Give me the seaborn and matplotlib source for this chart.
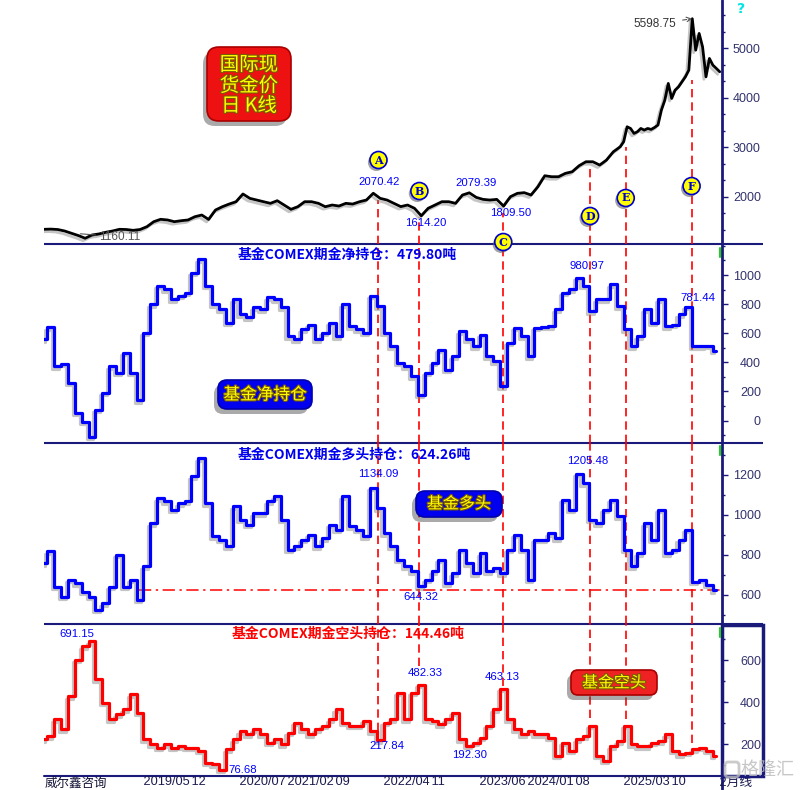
import numpy as np
import matplotlib
matplotlib.use("Agg")
import matplotlib.pyplot as plt
import seaborn as sns
from matplotlib import patheffects as pe
from matplotlib.patches import FancyBboxPatch, Rectangle
from matplotlib.ticker import MultipleLocator

# ---------------- data (month index: 0 = 2018/03) ----------------
month = list(range(99))

gold_month = list(range(84)) + [84 + 0.5 * i for i in range(30)]
gold = [1341, 1345, 1337, 1307, 1261, 1215, 1160, 1226, 1247, 1281,
        1307, 1341, 1337, 1320, 1337, 1394, 1495, 1543, 1530, 1495,
        1515, 1530, 1596, 1630, 1540, 1731, 1798, 1852, 1899, 2055,
        1967, 1933, 1899, 1866, 1919, 1832, 1745, 1798, 1899, 1899,
        1866, 1798, 1832, 1812, 1866, 1852, 1899, 1933, 2070, 1967,
        1933, 1866, 1800, 1832, 1766, 1614, 1766, 1832, 1899, 1899,
        1866, 2034, 2079, 1987, 1946, 1933, 1946, 1810, 2001, 2068,
        2082, 2034, 2202, 2424, 2404, 2404, 2472, 2505, 2626, 2707,
        2707, 2640, 2741, 2909,
        3010, 3111, 3414, 3380, 3280, 3313, 3380, 3347, 3380, 3360,
        3400, 3448, 3751, 3953, 4290, 3987, 4155, 4222, 4323, 4424,
        4559, 5598.75, 4963, 5301, 5030, 4424, 4795, 4660, 4594, 4526]

net = [560, 640, 373, 390, 260, 53, -7, -110, 74, 191,
       373, 327, 467, 327, 140, 605, 798, 925, 902, 833,
       856, 879, 1017, 1109, 925, 798, 764, 672, 833, 729,
       709, 778, 764, 847, 833, 778, 580, 557, 626, 660,
       557, 603, 672, 580, 798, 649, 626, 603, 856, 787,
       603, 511, 397, 373, 304, 177, 327, 397, 488, 350,
       442, 614, 557, 511, 591, 442, 407, 235, 534, 637,
       580, 442, 637, 644, 649, 764, 879, 902, 981, 925,
       752, 833, 833, 936, 787, 626, 511, 580, 764, 672,
       833, 649, 660, 729, 781, 511, 511, 515, 480]

long_pos = [758, 817, 642, 592, 675, 658, 617, 592, 525, 558,
            642, 800, 642, 675, 575, 742, 958, 1083, 1067, 1025,
            1058, 1067, 1192, 1283, 1058, 892, 875, 842, 1042, 975,
            950, 1008, 1008, 1067, 1092, 975, 825, 842, 875, 900,
            842, 883, 950, 925, 1092, 942, 925, 892, 1134, 1033,
            908, 842, 775, 742, 717, 644, 675, 717, 775, 658,
            708, 825, 758, 708, 808, 717, 733, 708, 825, 900,
            825, 675, 875, 875, 908, 883, 1075, 1025, 1205, 1158,
            975, 958, 1025, 1075, 992, 825, 742, 808, 958, 875,
            1025, 808, 825, 875, 925, 667, 675, 650, 624]

short_pos = [222, 238, 318, 270, 429, 603, 667, 691, 508, 397,
             318, 341, 365, 437, 349, 222, 199, 183, 199, 183,
             190, 183, 183, 167, 111, 103, 77, 175, 222, 262,
             246, 270, 246, 206, 222, 199, 254, 302, 270, 246,
             270, 286, 318, 365, 302, 286, 286, 310, 262, 218,
             302, 318, 445, 318, 445, 482, 318, 310, 294, 318,
             349, 222, 192, 206, 230, 286, 365, 463, 318, 270,
             246, 262, 246, 246, 230, 143, 206, 167, 222, 238,
             286, 143, 119, 190, 214, 286, 199, 190, 190, 206,
             214, 246, 167, 151, 159, 175, 183, 167, 144]

tick_month = [14, 21, 28, 35, 42, 49, 56, 63, 70, 77, 84, 91, 98]
tick_text = ["2019/05", "12", "2020/07", "2021/02", "09", "2022/04", "11",
             "2023/06", "2024/01", "08", "2025/03", "10", "2月线"]

event_letter = ["A", "B", "C", "D", "E", "F"]
event_month = [48.76, 54.72, 66.95, 79.6, 84.8, 94.4]
event_gold_top = [1933, 1596, 1664, 2641, 3011, 4360]
event_short_end = [262, 571, 476, 326, 318, 207]
event_badge_y = [2742, 2115, 1084, 1610, 1974, 2216]

net_now, long_now, short_now = 479.80, 624.26, 144.46

# ---------------- layout ----------------
sns.set_theme(style="white")
plt.rcParams["font.family"] = ["Noto Sans CJK SC", "DejaVu Sans"]

W, H = 803, 790
L, R = 44, 722
NAVY = "#1a1a7a"
TICKC = "#33336e"
BLUE = "#0000ff"
RED = "#ff0000"

fig = plt.figure(figsize=(W / 100, H / 100), dpi=100)
fig.patch.set_facecolor("white")


def rect(top, bottom):
    return [L / W, 1 - bottom / H, (R - L) / W, (bottom - top) / H]


back = fig.add_axes([0, 0, 1, 1], zorder=0)
back.set_xlim(0, W); back.set_ylim(H, 0); back.axis("off")

ax1 = fig.add_axes(rect(0, 244), zorder=3)
ax2 = fig.add_axes(rect(244, 443), zorder=2)
ax3 = fig.add_axes(rect(443, 624), zorder=2)
ax4 = fig.add_axes(rect(624, 775), zorder=2)
front = fig.add_axes([0, 0, 1, 1], zorder=10)
front.set_xlim(0, W); front.set_ylim(H, 0); front.axis("off")
front.patch.set_alpha(0)

axes = [ax1, ax2, ax3, ax4]
ylims = [(1044, 5977), (-154, 1213), (455, 1358), (52, 773)]
minors = [1000 / 3, 100, 100, 100]
yticks = [[2000, 3000, 4000, 5000], [0, 200, 400, 600, 800, 1000],
          [600, 800, 1000, 1200], [200, 400, 600]]
XMAX = (R - L) / 6.86

shadow = [pe.SimpleLineShadow(offset=(-1.5, -1.8), shadow_color="#808080", alpha=0.45), pe.Normal()]

sns.lineplot(x=gold_month, y=gold, ax=ax1, color="black", lw=2.0, path_effects=shadow)
sns.lineplot(x=month, y=net, ax=ax2, color=BLUE, lw=2.3, drawstyle="steps-mid", path_effects=shadow)
sns.lineplot(x=month, y=long_pos, ax=ax3, color=BLUE, lw=2.3, drawstyle="steps-mid", path_effects=shadow)
sns.lineplot(x=month, y=short_pos, ax=ax4, color=RED, lw=2.3, drawstyle="steps-mid", path_effects=shadow)

for ax, yl, yt, mn in zip(axes, ylims, yticks, minors):
    ax.set_facecolor("none")
    ax.set_xlim(0, XMAX)
    ax.set_ylim(*yl)
    ax.set(xlabel="", ylabel="")
    for s in ax.spines.values():
        s.set_visible(False)
    ax.yaxis.tick_right()
    ax.set_yticks(yt)
    ax.yaxis.set_minor_locator(MultipleLocator(mn))
    ax.tick_params(axis="y", which="major", direction="out", length=4.5, width=1,
                   color=NAVY, pad=23.5, labelsize=9, labelcolor=TICKC)
    ax.tick_params(axis="y", which="minor", direction="out", length=2, width=1, color=NAVY)
    for lb in ax.get_yticklabels():
        lb.set_ha("right")
        lb.set_fontfamily("Liberation Sans")
    ax.grid(False)
    if ax is not ax4:
        ax.tick_params(axis="x", which="both", bottom=False, labelbottom=False)

ax4.set_xticks(tick_month, labels=[" " + t for t in tick_text])
ax4.xaxis.set_minor_locator(MultipleLocator(1))
ax4.tick_params(axis="x", which="major", direction="out", length=11, width=1.2, color=NAVY,
                pad=-10.0, labelsize=9.2, labelcolor="#1a1a50")
ax4.tick_params(axis="x", which="minor", direction="out", length=2.5, width=0.9, color=NAVY)
for lb in ax4.get_xticklabels():
    lb.set_ha("left")
    lb.set_fontfamily(["Liberation Sans", "Noto Sans CJK SC"])

# event dashed lines
dash = (0, (5, 3))
ax1.vlines(event_month, ylims[0][0], event_gold_top, colors=RED, linestyles=[dash], lw=1.2, zorder=1)
for ax in (ax2, ax3):
    for m in event_month:
        ax.axvline(m, color=RED, ls=dash, lw=1.2, zorder=1)
ax4.vlines(event_month, event_short_end, ylims[3][1], colors=RED, linestyles=[dash], lw=1.2, zorder=1)

# horizontal dash-dot at current long value
ax3.hlines(long_now, 13.8, 98.5, colors=RED, linestyles=[(0, (8, 3, 1.5, 3))], lw=1.1, zorder=1)

# event badges
ax1.scatter(event_month, event_badge_y, s=150, facecolor="#ffff00", edgecolor="#0000cc",
            lw=1.2, zorder=8, clip_on=False,
            path_effects=[pe.SimplePatchShadow(offset=(-1.5, -1.8), shadow_rgbFace="#666", alpha=0.6), pe.Normal()])
for m, v, t in zip(event_month, event_badge_y, event_letter):
    ax1.text(m, v, t, ha="center", va="center", color="#0000cc", fontsize=8,
             fontweight="bold", family="DejaVu Serif", zorder=9, clip_on=False)

# value labels
lblkw = dict(color=BLUE, fontsize=8.2, family="Liberation Sans", ha="center", va="center", zorder=6)
ax1.text(48.8, 2297, "2070.42", **lblkw)
ax1.text(55.7, 1468, "1614.20", **lblkw)
ax1.text(63.0, 2277, "2079.39", **lblkw)
ax1.text(68.1, 1670, "1809.50", **lblkw)
ax2.text(79.2, 1062, "980.97", **lblkw)
ax2.text(95.3, 842, "781.44", **lblkw)
ax3.text(48.8, 1205, "1134.09", **lblkw)
ax3.text(79.2, 1270, "1205.48", **lblkw)
ax3.text(55.0, 590, "644.32", **lblkw)
ax4.text(4.8, 727, "691.15", **lblkw)
ax4.text(28.9, 75, "76.68", **lblkw)
ax4.text(50.0, 189, "217.84", **lblkw)
ax4.text(55.5, 541, "482.33", **lblkw)
ax4.text(66.8, 522, "463.13", **lblkw)
ax4.text(62.1, 146, "192.30", **lblkw)

ax1.annotate("1160.11", xy=(5.3, 1250), xytext=(11.0, 1190), color="#555555", fontsize=8.5,
             family="Liberation Sans", ha="center", va="center",
             arrowprops=dict(arrowstyle="-", color="#555555", lw=0.8, shrinkA=0, shrinkB=0))
ax1.annotate("5598.75", xy=(94.5, 5598.75), xytext=(89.1, 5492), color="#333333", fontsize=8.5,
             family="Liberation Sans", ha="center", va="center",
             arrowprops=dict(arrowstyle="->", color="#555555", lw=0.8, ls="--", shrinkA=2, shrinkB=0))

# panel titles
tkw = dict(fontsize=10, fontweight="bold", ha="left", va="center", family=["Noto Sans CJK SC", "DejaVu Sans"])
ax2.text(0.285, 0.945, f"基金COMEX期金净持仓：{net_now:.2f}吨", transform=ax2.transAxes, color="#0000ee", **tkw)
ax3.text(0.285, 0.934, f"基金COMEX期金多头持仓：{long_now:.2f}吨", transform=ax3.transAxes, color="#0000ee", **tkw)
ax4.text(0.276, 0.934, f"基金COMEX期金空头持仓：{short_now:.2f}吨", transform=ax4.transAxes, color=RED, **tkw)

# frame lines (pixel layout)
for y in (244, 443, 624):
    back.plot([L, 763], [y, y], color=NAVY, lw=1.5, solid_capstyle="butt")
back.plot([L, R], [775.5, 775.5], color=NAVY, lw=1.5)
back.plot([R, R], [0, H], color=NAVY, lw=2)
front.add_patch(Rectangle((R, 624.5), 763 - R, 151, fill=False, edgecolor=NAVY, lw=2.5))
for y0 in (248, 446, 628):
    front.plot([R - 1.5, R - 1.5], [y0, y0 + 9], color="#22cc22", lw=1.5)
front.text(741, 9, "?", color="#00e5e5", fontsize=10, fontweight="bold", ha="center", va="center",
           family="DejaVu Sans")

# badges
txt_fx = [pe.withStroke(linewidth=1.6, foreground="#7a5a00")]


def badge(x0, y0, w, h, color, rs):
    front.add_patch(FancyBboxPatch((x0 - 4, y0 + 5), w, h, boxstyle=f"round,pad=0,rounding_size={rs}",
                                   facecolor="#444444", edgecolor="none", alpha=0.45))
    front.add_patch(FancyBboxPatch((x0, y0), w, h, boxstyle=f"round,pad=0,rounding_size={rs}",
                                   facecolor=color, edgecolor="#aa0000" if color != "#0000ee" else "#0000aa", lw=1.2))


badge(207, 47, 84, 74, "#ee1111", 12)
for yy, s in zip((65, 86, 106), ("国际现", "货金价", "日 K线")):
    front.text(249, yy, s, color="#ffff00", fontsize=14, ha="center", va="center", path_effects=txt_fx)

badge(218, 380, 94, 29, "#0000ee", 9)
front.text(265, 395, "基金净持仓", color="#ffff00", fontsize=12, ha="center", va="center", path_effects=txt_fx)
badge(416, 491, 86, 26, "#0000ee", 9)
front.text(459, 504, "基金多头", color="#ffff00", fontsize=11.5, ha="center", va="center", path_effects=txt_fx)
badge(571, 670, 86, 25, "#ee2222", 7)
front.text(614, 683, "基金空头", color="#ffff00", fontsize=11.5, ha="center", va="center", path_effects=txt_fx)

# bottom-left label and watermark
front.text(45, 783, "威尔鑫咨询", color="#111133", fontsize=9, ha="left", va="center")
front.add_patch(FancyBboxPatch((725, 762), 14, 15, boxstyle="round,pad=0,rounding_size=3",
                               fill=False, edgecolor="#bdbdbd", lw=2, alpha=0.8))
front.text(768, 770, "格隆汇", color="#bdbdbd", fontsize=13, ha="center", va="center", alpha=0.85)

fig.savefig("out.png", dpi=100, facecolor="white")
